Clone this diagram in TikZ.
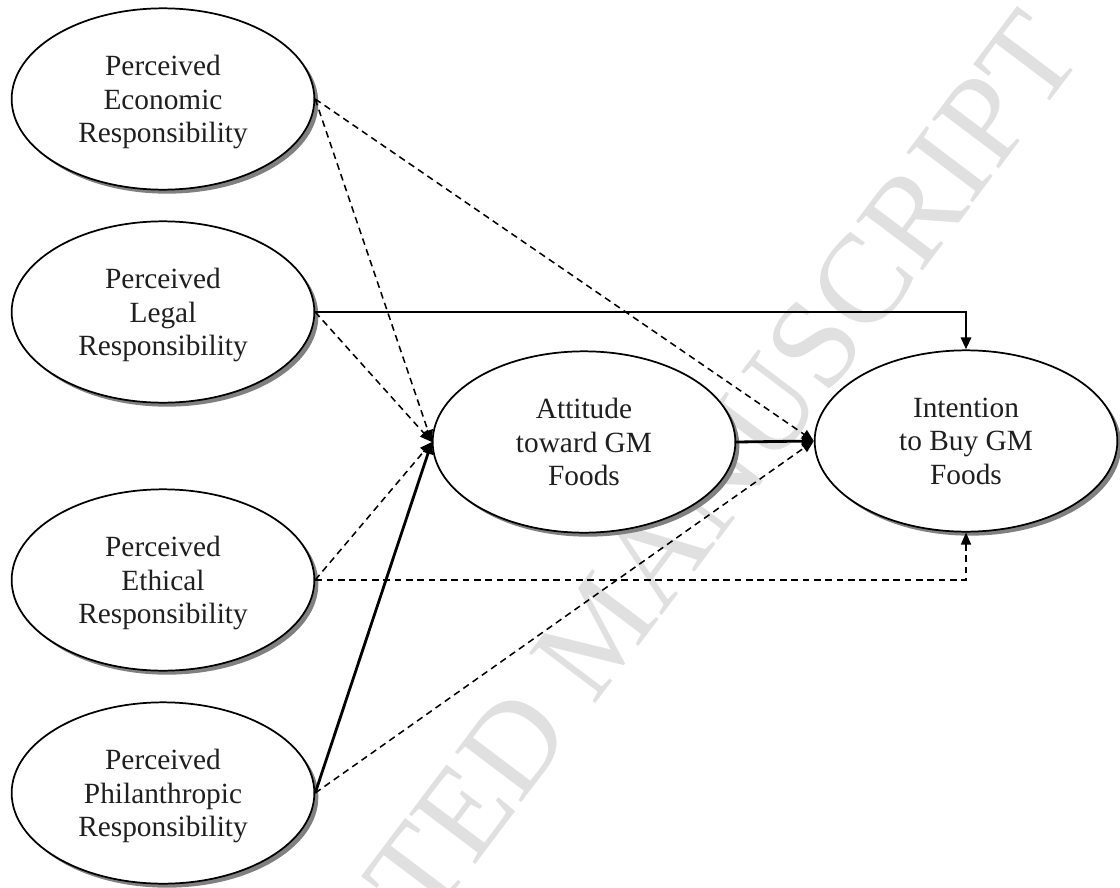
\documentclass[tikz,border=0pt]{standalone}
\usepackage{fontspec}
\setmainfont{Liberation Serif}
\usetikzlibrary{shapes.geometric,arrows.meta,shadows}
\begin{document}
\begin{tikzpicture}[x=0.75pt,y=-0.75pt,
  construct/.style={ellipse, draw=black, line width=1.3pt, fill=white,
    minimum width=227pt, minimum height=136pt, inner sep=0pt, align=center,
    font=\fontsize{22}{25}\selectfont, text=black!88, text depth=0pt,
    drop shadow={shadow xshift=3pt, shadow yshift=-3pt, fill=black!50, opacity=1}},
  tip/.style={-{Triangle[length=9pt,width=7.5pt]}},
  solidpath/.style={tip, line width=2.1pt},
  dashpath/.style={tip, line width=1.15pt, dash pattern=on 5pt off 3.5pt},
  watermark/.style={rotate=53, text=black!12, font=\fontsize{95}{95}\selectfont},
]
\useasboundingbox[fill=white] (0,0) rectangle (1120,888);

\begin{scope}
  \clip (0,0) rectangle (1120,888);
  \node[watermark] (wm) at (723,467) {TED MANUSCRIPT};
\end{scope}

\node[construct] (eco) at (163,99)  {Perceived\\Economic\\Responsibility};
\node[construct] (leg) at (163,312) {Perceived\\Legal\\Responsibility};
\node[construct] (eth) at (163,580) {Perceived\\Ethical\\Responsibility};
\node[construct] (phi) at (163,793) {Perceived\\Philanthropic\\Responsibility};
\node[construct] (att) at (584,442) {Attitude\\toward GM\\Foods};
\node[construct] (int) at (966,441) {Intention\\to Buy GM\\Foods};

\draw[dashpath] (eco.east) -- (att.west);
\draw[dashpath] (eco.east) -- (int.west);
\draw[solidpath] (leg.east) -| (int.north);
\draw[dashpath] (leg.east) -- (att.west);
\draw[dashpath] (eth.east) -- (att.west);
\draw[dashpath] (eth.east) -| (int.south);
\draw[solidpath] (phi.east) -- (att.west);
\draw[dashpath] (phi.east) -- (int.west);
\draw[solidpath] (att.east) -- (int.west);
\end{tikzpicture}
\end{document}
